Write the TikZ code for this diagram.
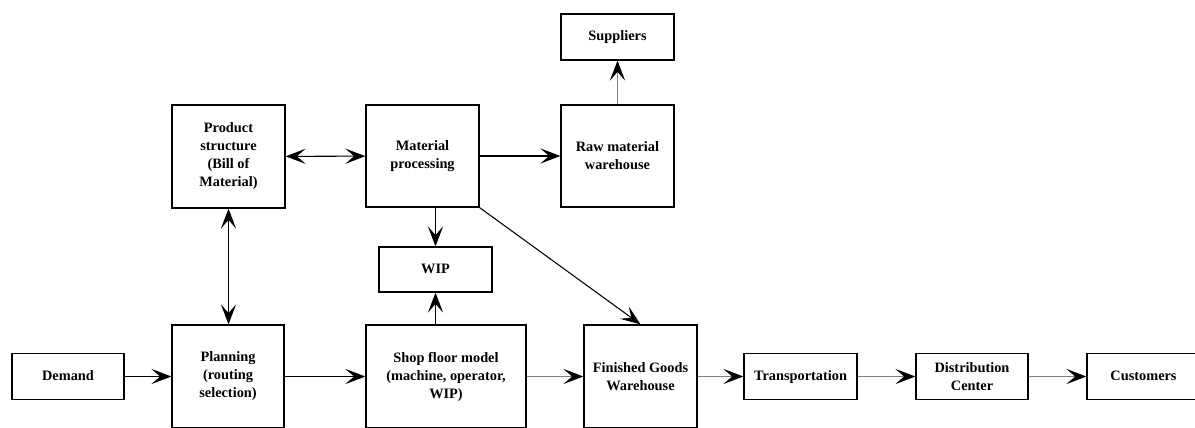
\documentclass[tikz,border=0pt]{standalone}
\usepackage{fontspec}
\setmainfont{Liberation Serif}
\usetikzlibrary{arrows.meta}

\tikzset{
  box/.style={draw,line width=0.9pt,minimum width=2.825cm,minimum height=1.15cm,
    align=center,inner sep=1pt,font=\fontsize{10.2}{12.8}\selectfont\bfseries},
  tallbox/.style={box,minimum height=2.575cm},
  oneline/.style={text height=7.2pt,text depth=2.2pt},
  head/.tip={Stealth[length=5mm,width=3.8mm,inset=2.2mm]},
  flow/.style={line width=0.75pt,-{head[black]}},
  both/.style={line width=0.75pt,{head}-{head}},
  faint/.style={flow,draw=gray}
}

\begin{document}
\begin{tikzpicture}[x=0.025cm,y=-0.025cm]
\useasboundingbox (0,0) rectangle (1195,427);
\clip (0,0) rectangle (1195,427);

% create the nodes
\node[box,oneline,minimum width=2.8cm] (demand) at (68,376.5) {Demand};
\node[tallbox,minimum width=2.8cm] (plan) at (228,376.5) {Planning\\(routing\\selection)};
\node[tallbox,minimum width=4cm] (shop) at (446,376.5) {Shop floor model\\(machine, operator,\\WIP)};
\node[tallbox] (fgw) at (640.5,376.5) {Finished Goods\\Warehouse};
\node[box,oneline] (trans) at (800.5,376.5) {Transportation};
\node[box,minimum width=2.8cm] (dc) at (972,376.5) {Distribution\\Center};
\node[box,oneline] (cust) at (1143.5,376.5) {Customers};

\node[tallbox] (bom) at (228.5,156.5) {Product\\structure\\(Bill of\\Material)};
\node[tallbox,minimum height=2.55cm] (matp) at (422.5,156) {Material\\processing};
\node[tallbox,minimum height=2.55cm] (raw) at (617.5,156) {Raw material\\warehouse};
\node[box,oneline] (supp) at (617.5,37) {Suppliers};
\node[box,oneline,minimum height=1.125cm] (wip) at (435.5,269.5) {WIP};

% connect them
\draw[flow] (demand) -- (plan);
\draw[flow] (plan) -- (plan -| shop.west);
\draw[faint] (shop.east |- fgw) -- (fgw);
\foreach \a/\b in {fgw/trans,trans/dc,dc/cust}
  \draw[faint] (\a.east |- \b) -- (\b);

\draw[both] (bom) -- (matp);
\draw[flow] (matp) -- (raw);
\draw[faint] (raw) -- (supp);
\draw[both] (bom.south) -- (bom.south |- plan.north);
\draw[flow] (matp.south -| wip) -- (wip);
\draw[flow] (shop.north -| wip) -- (wip);
\draw[flow] (matp.south east) -- (fgw.north);

\end{tikzpicture}
\end{document}
